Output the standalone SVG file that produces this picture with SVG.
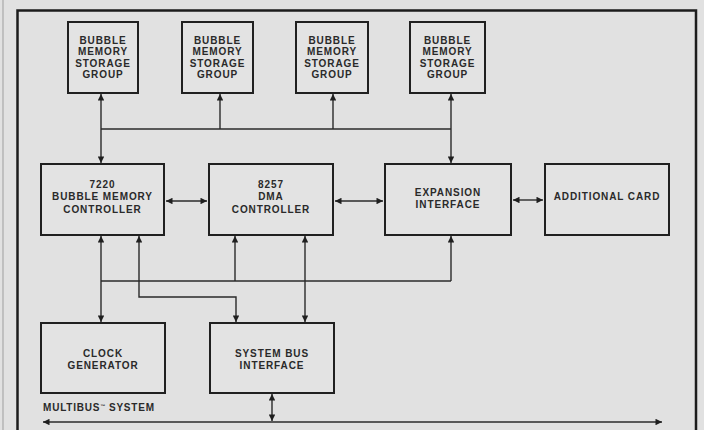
<svg xmlns="http://www.w3.org/2000/svg" width="704" height="430" viewBox="0 0 704 430">
  <defs>
    <marker id="ah" viewBox="0 0 10 10" refX="10" refY="5" markerWidth="8" markerHeight="6.5" markerUnits="userSpaceOnUse" orient="auto-start-reverse">
      <path d="M0,0 L10,5 L0,10 Z" fill="#1f1f1f"/>
    </marker>
  </defs>
  <style>
    .bg { fill: #e1e1e1; }
    .frame { fill: none; stroke: #1c1c1c; stroke-width: 2.5; }
    .box { fill: #e3e3e3; stroke: #202020; stroke-width: 2; }
    .lbl { font-family: "Liberation Sans", Arial, sans-serif; font-weight: bold; font-size: 10px; letter-spacing: 0.9px; fill: #2a2a2a; text-anchor: middle; }
    .cap { font-family: "Liberation Sans", Arial, sans-serif; font-weight: bold; font-size: 10px; letter-spacing: 0.8px; fill: #2a2a2a; }
    .wire { fill: none; stroke: #2a2a2a; stroke-width: 1.4; }
    .two { marker-start: url(#ah); marker-end: url(#ah); }
    .one { marker-end: url(#ah); }
  </style>

  <rect class="bg" x="0" y="0" width="704" height="430"/>
  <!-- scan edge -->
  <line x1="3" y1="0" x2="3" y2="430" stroke="#a9a9a9" stroke-width="1.2"/>
  <!-- board outline, continues past the lower edge -->
  <path class="frame" d="M17.5,431 V10.5 H696 V431"/>

  <!-- storage groups -->
  <g id="storage1">
    <rect class="box" x="68" y="22" width="70" height="71"/>
    <text class="lbl" x="103" y="43.5">BUBBLE</text>
    <text class="lbl" x="103" y="55">MEMORY</text>
    <text class="lbl" x="103" y="66.5">STORAGE</text>
    <text class="lbl" x="103" y="78">GROUP</text>
  </g>
  <g id="storage2">
    <rect class="box" x="182" y="22" width="71" height="71"/>
    <text class="lbl" x="217.5" y="43.5">BUBBLE</text>
    <text class="lbl" x="217.5" y="55">MEMORY</text>
    <text class="lbl" x="217.5" y="66.5">STORAGE</text>
    <text class="lbl" x="217.5" y="78">GROUP</text>
  </g>
  <g id="storage3">
    <rect class="box" x="296" y="22" width="72" height="71"/>
    <text class="lbl" x="332" y="43.5">BUBBLE</text>
    <text class="lbl" x="332" y="55">MEMORY</text>
    <text class="lbl" x="332" y="66.5">STORAGE</text>
    <text class="lbl" x="332" y="78">GROUP</text>
  </g>
  <g id="storage4">
    <rect class="box" x="410" y="22" width="75" height="71"/>
    <text class="lbl" x="447.5" y="43.5">BUBBLE</text>
    <text class="lbl" x="447.5" y="55">MEMORY</text>
    <text class="lbl" x="447.5" y="66.5">STORAGE</text>
    <text class="lbl" x="447.5" y="78">GROUP</text>
  </g>

  <!-- controllers row -->
  <g id="bmc">
    <rect class="box" x="41" y="164" width="123" height="71"/>
    <text class="lbl" x="102.5" y="187.5">7220</text>
    <text class="lbl" x="102.5" y="200">BUBBLE MEMORY</text>
    <text class="lbl" x="102.5" y="212.5">CONTROLLER</text>
  </g>
  <g id="dma">
    <rect class="box" x="209" y="164" width="124" height="71"/>
    <text class="lbl" x="271" y="187.5">8257</text>
    <text class="lbl" x="271" y="200">DMA</text>
    <text class="lbl" x="271" y="212.5">CONTROLLER</text>
  </g>
  <g id="expansion">
    <rect class="box" x="385" y="164" width="126" height="71"/>
    <text class="lbl" x="448" y="196">EXPANSION</text>
    <text class="lbl" x="448" y="208">INTERFACE</text>
  </g>
  <g id="additional">
    <rect class="box" x="545" y="164" width="124" height="71"/>
    <text class="lbl" x="607" y="199.5">ADDITIONAL CARD</text>
  </g>

  <!-- lower row -->
  <g id="clock">
    <rect class="box" x="41" y="323" width="124" height="70"/>
    <text class="lbl" x="103" y="356.5">CLOCK</text>
    <text class="lbl" x="103" y="368.5">GENERATOR</text>
  </g>
  <g id="sbi">
    <rect class="box" x="210" y="323" width="124" height="70"/>
    <text class="lbl" x="272" y="356.5">SYSTEM BUS</text>
    <text class="lbl" x="272" y="368.5">INTERFACE</text>
  </g>

  <text class="cap" x="43" y="411">MULTIBUS<tspan font-size="5" dy="-3.5" letter-spacing="0">™</tspan><tspan dy="3.5"> SYSTEM</tspan></text>

  <g id="connectors">
    <!-- storage bus -->
    <line class="wire" x1="101" y1="129" x2="451" y2="129"/>
    <line class="wire two" x1="101" y1="94" x2="101" y2="163"/>
    <line class="wire one" x1="220" y1="129" x2="220" y2="94"/>
    <line class="wire one" x1="333" y1="129" x2="333" y2="94"/>
    <line class="wire two" x1="451" y1="94" x2="451" y2="163"/>

    <!-- side links -->
    <line class="wire two" x1="166" y1="201" x2="207" y2="201"/>
    <line class="wire two" x1="335" y1="201" x2="383" y2="201"/>
    <line class="wire two" x1="513" y1="200" x2="543" y2="200"/>

    <!-- local bus -->
    <line class="wire" x1="101" y1="281" x2="451" y2="281"/>
    <line class="wire two" x1="101" y1="236" x2="101" y2="322"/>
    <polyline class="wire two" points="139,236 139,297 236,297 236,322"/>
    <line class="wire one" x1="235" y1="281" x2="235" y2="236"/>
    <line class="wire two" x1="305" y1="236" x2="305" y2="322"/>
    <line class="wire one" x1="451" y1="281" x2="451" y2="236"/>

    <!-- system bus -->
    <line class="wire two" x1="272" y1="394" x2="272" y2="421"/>
    <line class="wire two" x1="43" y1="422" x2="662" y2="422"/>
  </g>
</svg>
